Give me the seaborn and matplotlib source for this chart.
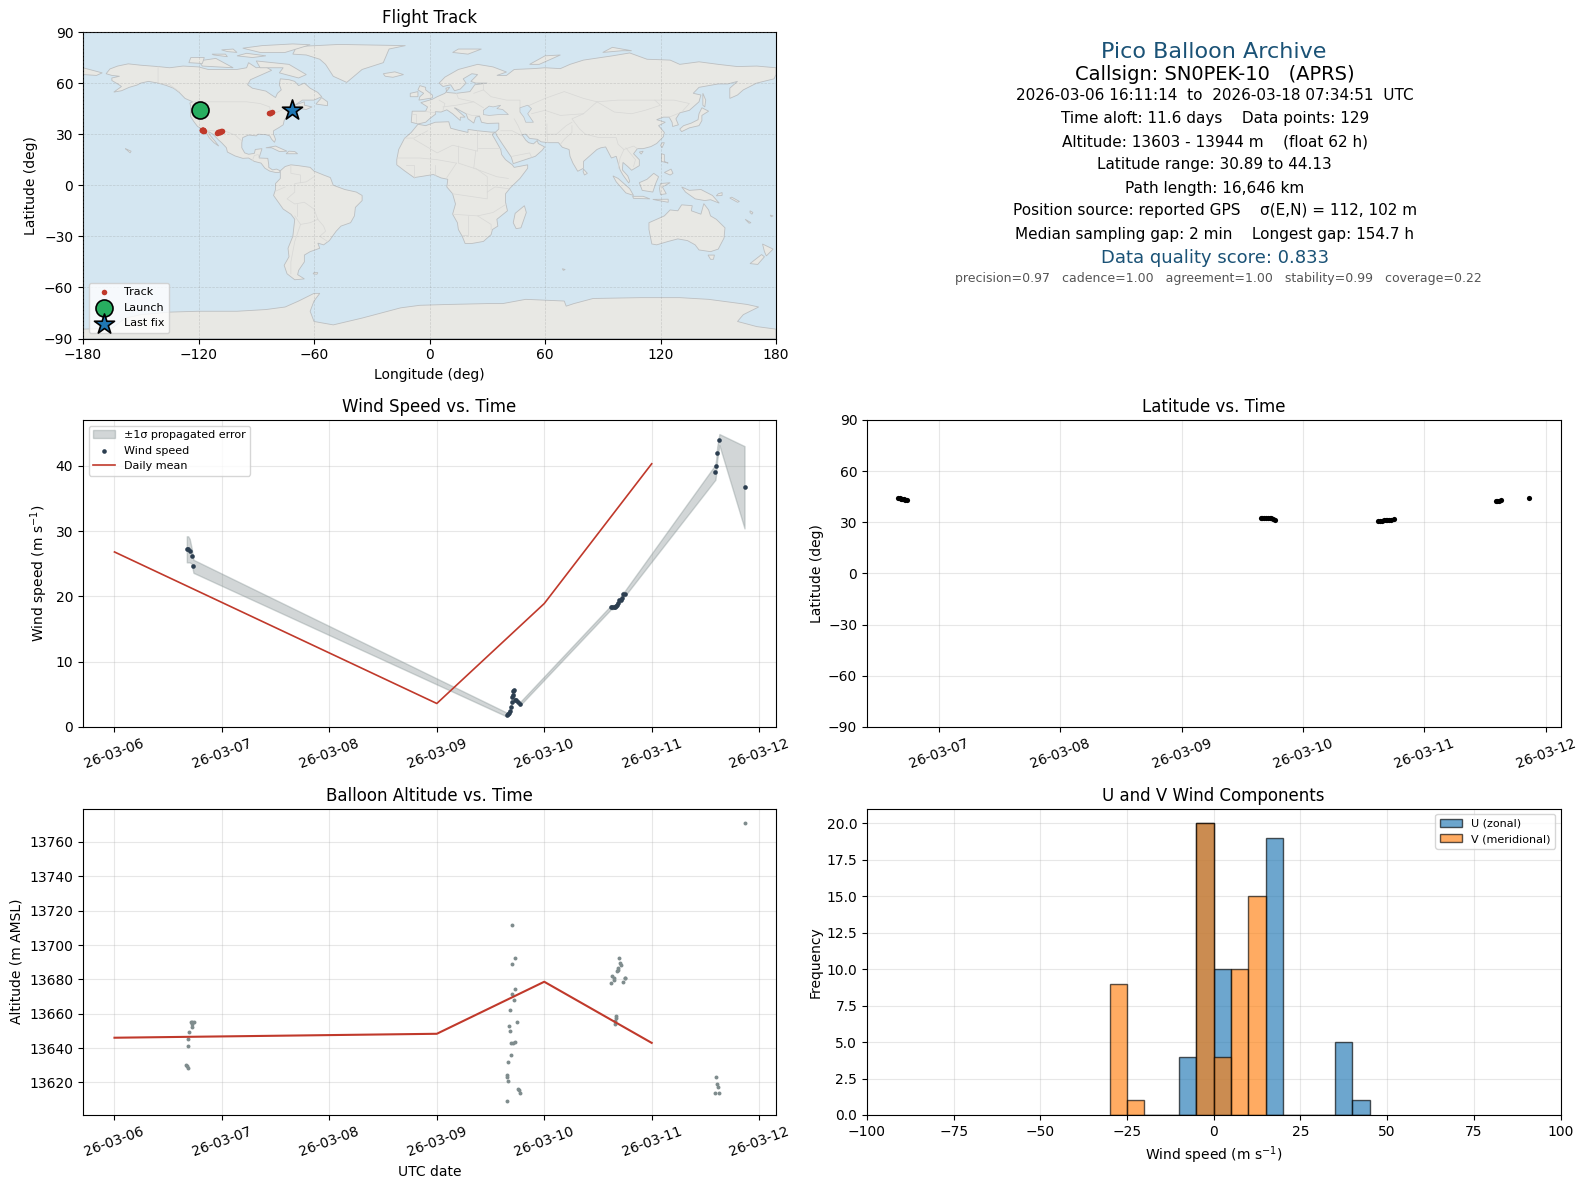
# Pico balloon flight summary page

import matplotlib
matplotlib.use("Agg")
import matplotlib.pyplot as plt
import matplotlib.dates as mdates
import pandas as pd
import seaborn as sns

start = pd.Timestamp("2026-03-06")

# days after 03-06 00:00 for each group of fixes
wind_days = [0.673, 0.685, 0.700, 0.718, 0.735,
             3.652, 3.660, 3.672, 3.681, 3.689, 3.697, 3.701, 3.705, 3.710, 3.720, 3.724, 3.738, 3.755, 3.771,
             4.620, 4.633, 4.645, 4.657, 4.670, 4.678, 4.690, 4.698, 4.710, 4.723, 4.731, 4.748,
             5.593, 5.601, 5.610, 5.630, 5.864]
wind_speed = [27.2, 27.2, 27.0, 26.2, 24.6,
              1.9, 2.0, 2.2, 2.4, 3.1, 3.9, 4.6, 4.9, 5.5, 5.7, 4.2, 4.1, 3.8, 3.5,
              18.3, 18.3, 18.4, 18.4, 18.5, 18.7, 19.0, 19.4, 19.4, 19.7, 20.3, 20.4,
              39.0, 40.0, 41.9, 44.0, 36.7]
wind_err = [2.0, 2.0, 1.8, 1.2, 1.0,
            0.3, 0.25, 0.25, 0.2, 0.2, 0.2, 0.2, 0.2, 0.2, 0.2, 0.25, 0.25, 0.25, 0.25,
            0.3, 0.3, 0.3, 0.3, 0.3, 0.3, 0.3, 0.35, 0.35, 0.35, 0.4, 0.4,
            1.15, 1.1, 1.0, 0.85, 6.3]

mean_days = [0, 3, 4, 5]
mean_speed = [26.8, 3.6, 18.9, 40.3]
mean_alt = [13646, 13648.3, 13678.6, 13643]

alt_days = [0.669, 0.673, 0.681, 0.681, 0.681, 0.689, 0.710, 0.718, 0.726, 0.726, 0.739,
            3.652, 3.652, 3.656, 3.660, 3.660, 3.672, 3.677, 3.681, 3.689, 3.693, 3.697, 3.697,
            3.701, 3.709, 3.718, 3.726, 3.726, 3.726, 3.742, 3.759, 3.763, 3.775,
            4.620, 4.633, 4.645, 4.653, 4.661, 4.661, 4.666, 4.670, 4.678, 4.682, 4.690, 4.698,
            4.702, 4.711, 4.731, 4.748, 4.752,
            5.589, 5.601, 5.605, 5.613, 5.630, 5.864]
altitude = [13629.9, 13629.3, 13628.1, 13645, 13640.9, 13649.1, 13655.1, 13653.9, 13655.1, 13652, 13655.3,
            13624.1, 13609, 13622.9, 13631.6, 13620.6, 13653.1, 13649.7, 13661.9, 13635.7, 13642.7, 13711.9, 13689.2,
            13671.7, 13642.7, 13667.7, 13692.7, 13674.1, 13643.8, 13654.9, 13616.1, 13615.5, 13613.6,
            13678.1, 13682.2, 13679.9, 13681, 13655.9, 13653.9, 13657.6, 13658.8, 13684.7, 13685.7, 13686.7, 13692.7,
            13689.8, 13688.2, 13678.7, 13681, 13681,
            13613.6, 13622.9, 13618.8, 13617.1, 13613.6, 13771.2]

# position fixes, same order in both panels
lat_days = [0.669, 0.680, 0.690, 0.700, 0.712, 0.725, 0.738,
            3.650, 3.665, 3.680, 3.695, 3.710, 3.725, 3.740, 3.755, 3.770,
            4.620, 4.635, 4.650, 4.665, 4.680, 4.695, 4.710, 4.725, 4.745,
            5.590, 5.600, 5.610, 5.630, 5.864]
latitude = [44.1, 44.0, 43.8, 43.6, 43.4, 43.2, 43.0,
            32.4, 32.5, 32.5, 32.5, 32.4, 32.4, 32.3, 32.1, 31.6,
            30.9, 31.0, 31.0, 31.1, 31.1, 31.2, 31.4, 31.6, 31.8,
            42.3, 42.4, 42.6, 42.9, 44.1]
longitude = [-119.8, -119.6, -119.4, -119.2, -119.0, -118.8, -118.6,
             -118.2, -118.1, -118.0, -117.9, -117.8, -117.7, -117.6, -117.5, -117.4,
             -110.2, -110.0, -109.8, -109.5, -109.2, -108.9, -108.6, -108.2, -107.6,
             -83.2, -83.0, -82.6, -82.0, -71.4]

launch_lon, launch_lat = [-119.4], [44.1]
last_lon, last_lat = [-71.4], [44.1]

bin_edges = [-30, -25, -20, -15, -10, -5, 0, 5, 10, 15, 20, 25, 30, 35, 40, 45]
u_counts = [0, 0, 0, 0, 4, 20, 10, 0, 0, 19, 0, 0, 0, 5, 1]
v_counts = [9, 1, 0, 0, 0, 20, 4, 10, 15, 0, 0, 0, 0, 0, 0]

# coarse land outlines, lon/lat
land_shapes = [
    # north america
    [(-168, 65.5), (-166, 68.3), (-162, 70), (-156.5, 71.3), (-150, 70.5), (-141, 69.7), (-135, 69), (-128, 70), (-120, 69.5), (-115, 68), (-108, 68), (-100, 68), (-95, 69), (-94, 72), (-90, 69), (-85, 69.5), (-82, 67.5), (-87, 65), (-93, 62), (-94.5, 59), (-92, 57), (-85, 55.3), (-82, 53), (-80, 51.5), (-79, 54), (-77, 56), (-78, 59), (-77.5, 62.5), (-73, 62), (-70, 61), (-68, 58.5), (-65, 60), (-62, 57), (-58, 54.5), (-56, 52), (-60, 50), (-66, 50), (-70, 47), (-65, 49), (-65, 47), (-61, 46), (-64, 44.5), (-67, 45), (-70, 43.5), (-70.5, 41.7), (-74, 40.5), (-75.5, 38), (-76, 35.5), (-78, 34), (-81, 32), (-81, 30), (-80, 27), (-80.5, 25.2), (-82, 27), (-83, 29), (-85, 29.7), (-89, 30), (-90, 29), (-94, 29.5), (-97, 28), (-97.5, 25), (-97.5, 22), (-96, 19), (-94, 18.2), (-91, 18.7), (-90.5, 21), (-87, 21.5), (-88, 18), (-88.5, 16), (-84, 15.8), (-83.5, 12), (-83.5, 10.5), (-81.5, 9), (-79.5, 9.5), (-77.5, 8.5), (-78, 7.5), (-80, 7.5), (-83, 8.3), (-85.5, 10), (-87.5, 13), (-91, 14), (-94, 16), (-97, 15.8), (-101, 17.2), (-105, 19.5), (-105.5, 22), (-108, 25), (-109.5, 26.5), (-112.5, 30), (-114.7, 31.5), (-114.5, 30), (-111.5, 26), (-109.5, 23), (-112, 25), (-114.5, 28), (-116, 31), (-117.2, 32.5), (-120.5, 34.5), (-122.5, 37.5), (-124.2, 40.5), (-124, 46), (-124.5, 48.3), (-123, 49), (-127, 51), (-130, 54.5), (-133, 57), (-137, 58.7), (-141, 60), (-146, 61), (-150, 60), (-152, 58.8), (-156, 57.5), (-160, 55.5), (-164, 54.7), (-160, 58), (-162, 59.5), (-165, 61.5), (-165, 63), (-161, 64), (-165, 64.5)],
    # greenland and arctic islands
    [(-71, 77), (-69, 81.5), (-59, 82), (-47, 82.7), (-12.5, 82), (-21, 80), (-24, 72), (-35, 68), (-43, 60.4), (-50, 64), (-54, 71), (-57, 74), (-64, 76.5)],
    [(-90, 73), (-73, 71), (-64, 65), (-68, 63), (-78, 66), (-76, 69), (-88, 69)],
    [(-120, 73), (-111, 74.5), (-102, 69), (-118, 70)],
    [(-125, 72), (-118, 71.5), (-117, 75), (-124, 75)],
    [(-97, 80.5), (-87, 82), (-71, 83), (-62, 82.5), (-75, 78), (-88, 78)],
    [(-100, 76), (-92, 75), (-85, 76), (-95, 77.5)],
    [(-112, 76.5), (-105, 75.5), (-106, 77), (-113, 77)],
    [(-105, 78.5), (-100, 78), (-102, 80), (-108, 79.5)],
    [(-59, 47.7), (-53, 46.7), (-53, 49), (-56, 51.5)],
    [(-85, 22), (-80, 23), (-74, 20), (-78, 19.8), (-82, 22)],
    [(-74.5, 18.5), (-68.5, 18.5), (-70, 19.8), (-73, 20)],
    [(-24, 65.5), (-18, 66.6), (-13.5, 65), (-19, 63.4), (-23, 64)],
    [(-158, 21.5), (-155, 20), (-155.5, 19), (-157, 20.5)],
    # south america
    [(-77.5, 8.5), (-75, 11), (-72, 12), (-68, 11.5), (-62, 10.5), (-60, 8.3), (-55, 6), (-51.5, 4.5), (-50, 0), (-44, -2.5), (-38, -4), (-35, -6), (-35, -9), (-38.5, -13), (-39, -18), (-41, -22), (-46, -24), (-48.5, -27), (-52, -32.5), (-55, -35), (-58, -34), (-57, -37), (-62, -39), (-65, -41), (-65, -45), (-68, -50), (-68.5, -52.5), (-65, -55), (-70, -55.5), (-74, -52), (-75.5, -47), (-73, -42), (-73.5, -37), (-71, -30), (-70, -20), (-72, -17), (-76, -14), (-81, -6), (-80, -2.5), (-80, 1), (-77.5, 4)],
    # africa
    [(-6, 35.8), (-2, 35), (3, 37), (10, 37.3), (11, 33.5), (15, 32.3), (20, 31), (20, 32.8), (25, 32), (32, 31.2), (34.3, 31.2), (32.5, 29.9), (34, 27), (37, 21), (37.5, 18), (39.5, 15), (43, 12), (44, 10.5), (51, 12), (51, 10), (47, 4), (42, -1.5), (39.5, -5), (39.5, -10), (40.5, -15), (35, -20), (35.5, -24), (32.7, -26), (32, -29), (28, -33), (22, -34.2), (18.5, -34.2), (17, -30), (15, -26), (14.5, -22), (12, -17), (13.5, -11), (12, -5), (9, -1), (9.5, 3.5), (6, 4.3), (2, 6.3), (-4, 5.2), (-8, 4.5), (-13, 8.5), (-17, 12), (-17, 15), (-16, 21), (-13, 27.5), (-9.5, 31)],
    [(49.3, -12), (50.3, -16), (47.5, -25), (45, -25.5), (43.5, -22), (44.5, -16.5)],
    # eurasia
    [(-9.5, 37), (-6, 36), (-2, 37), (0, 39), (3.2, 41.8), (3, 43.2), (6, 43), (9, 44.3), (12, 42), (16, 38), (16, 40), (18.5, 40), (13, 45.5), (14, 45), (19, 42), (20, 39), (23, 36.5), (24, 40), (26, 40.5), (27, 37), (30, 36.3), (36, 36.5), (36, 33), (34.3, 31.2), (34.8, 29.5), (38, 24), (42.5, 16.5), (43.5, 12.7), (51, 15.5), (55, 17), (58.5, 20.5), (59.8, 22.5), (56.5, 24.5), (56, 26.3), (54, 24.3), (51.5, 25), (50, 26.5), (48, 29.8), (50, 30), (52, 27.5), (56, 27), (58, 25.5), (62, 25), (67, 25), (69, 22.3), (72.5, 21), (73, 17), (74.5, 13), (77, 8.2), (80, 10), (80, 14), (83, 17), (87, 21), (89, 22), (91.5, 22.5), (94.5, 16), (97, 17), (98, 13), (99, 9), (100.5, 6), (103.5, 1.3), (104, 2.5), (103, 5.5), (100.2, 9), (100.5, 13.4), (103, 11), (105, 8.8), (109, 11.5), (109, 15), (106, 18.5), (108, 21.5), (111, 21.5), (115, 22.7), (118, 24.5), (121.5, 28.5), (122, 31), (119, 35), (122.5, 37), (118, 38.5), (121.5, 40), (124.5, 40), (126, 37), (126.3, 34.5), (129.3, 35.5), (128, 39), (130, 42.5), (135, 44), (140, 49), (141, 53), (137, 54), (140, 57.5), (150, 59.5), (155, 59.5), (160, 61), (156, 57), (156, 51), (160, 53), (163, 56), (170, 60), (179, 62.5), (180, 65), (180, 69), (170, 70), (160, 69.7), (150, 71), (140, 72.5), (130, 71), (125, 73.5), (113, 74), (104, 77.7), (95, 76), (80, 73.5), (73, 71), (68, 68.5), (60, 69), (54, 68.5), (44, 68), (40, 64.5), (35, 64.5), (40, 66.5), (33, 69.5), (25, 71), (15, 68), (8, 63.5), (5, 60), (7, 58), (11, 59), (13, 55.5), (16, 56.5), (19, 60), (17.5, 62.5), (22, 65.5), (25, 65), (21.5, 61), (24, 60), (30, 60), (23.5, 59), (21, 55), (14, 54), (9, 54.5), (8.5, 57), (10.5, 57.5), (8, 54), (4, 52), (1.5, 50.5), (-1.5, 49.5), (-4.5, 48.5), (-1, 46), (-2, 43.5), (-9, 43.5)],
    [(-180, 69), (-175, 67.5), (-170, 66), (-173, 64.5), (-180, 65)],
    [(142, 54), (143.5, 50), (143, 46), (142, 47)],
    [(130, 33), (131, 31.5), (135, 33.7), (140, 35), (141.5, 38), (141.5, 41), (145, 43.5), (141.5, 45.5), (140, 42), (139.5, 38.5), (136, 36.5), (132, 35)],
    [(-5.5, 50), (1.5, 51.3), (1.5, 53), (-2, 56), (-2, 57.5), (-5, 58.5), (-6, 56), (-3, 54), (-5, 52)],
    [(-10, 52), (-6, 52), (-6, 55), (-10, 54)],
    [(12, 78), (20, 77), (27, 80), (15, 80)],
    [(52, 71), (57, 71), (68, 76.5), (60, 76)],
    [(90, 78), (100, 79), (105, 79), (95, 81)],
    [(80, 9.5), (82, 7), (80.5, 6), (79.8, 8)],
    [(121, 25), (122, 25), (120.8, 22), (120, 23.5)],
    [(109, 19.5), (111, 20), (110, 18.3)],
    [(120.5, 18.5), (122, 18), (122, 14), (124, 13), (120.5, 14)],
    [(122, 7.5), (125.5, 9.5), (126.5, 7), (125, 6)],
    [(109, 1.5), (113, 3.5), (116.5, 7), (119, 5), (117.5, 1), (116, -4), (110.5, -3)],
    [(95.3, 5.5), (98, 4), (104, -2), (106, -6), (102, -4.5), (97, 2)],
    [(105.5, -6.5), (111, -6.5), (114.5, -8), (106, -7.7)],
    [(120, 1), (125, 1.5), (121, -1), (123, -5), (120, -5.5), (119.5, -2)],
    [(116, -8.3), (124, -8.2), (124, -10), (119, -9)],
    [(131, -1), (135, -3), (141, -2.5), (147, -6), (150.5, -10.5), (146, -8.5), (143, -9), (138, -8), (133, -4)],
    [(150, -5), (152, -4.3), (152, -6), (149, -6.2)],
    [(157, -7), (161, -9.5), (160, -10), (156, -7.5)],
    [(166.5, -15), (168, -16), (167.5, -17), (166.5, -16)],
    [(164, -20), (167, -22), (166, -22.3)],
    [(177, -17.5), (178.5, -18), (177.5, -18.5)],
    # australia and around
    [(114, -22), (114, -26), (115.5, -34.5), (118, -35), (124, -33), (129, -31.5), (134, -32.5), (138, -35), (140, -38), (146, -39), (150, -37.5), (153, -31), (153.5, -25), (149, -20), (146, -18), (145, -14.5), (142.5, -10.8), (141, -17), (136, -15), (136.5, -12), (131, -11.5), (129, -15), (125, -14.5), (122, -18), (116, -21)],
    [(144.7, -41), (148, -41), (147.5, -43.5), (146, -43.5)],
    [(173, -34.5), (178.5, -37.5), (175, -41.5), (174, -39)],
    [(172.5, -40.7), (174, -42), (170.5, -46.5), (166.5, -46)],
    [(69, -49), (70.5, -49.5), (69.5, -50)],
    [(-60, -51.3), (-58, -51.3), (-58.5, -52.3), (-60.5, -52)],
    # antarctica
    [(-180, -84.5), (-165, -84), (-158, -78), (-150, -76), (-135, -74.5), (-120, -74), (-100, -74), (-85, -73), (-75, -71.5), (-68, -68), (-60, -63.5), (-57, -63.5), (-60, -68), (-62, -74), (-60, -80), (-50, -82), (-35, -78), (-25, -75), (-15, -72), (-5, -70.5), (10, -70), (30, -69.5), (38, -69.5), (50, -67), (70, -68), (71, -71), (75, -69.5), (85, -66.5), (110, -66), (130, -66), (145, -67), (165, -70), (171, -71.5), (163, -76), (160, -80), (170, -83), (180, -84.5), (180, -90), (-180, -90)],
]

inland_water = [
    [(28, 41.5), (31, 41), (36, 41.5), (41, 41.5), (38, 44.5), (35, 45), (37, 47), (33, 46), (31, 46.5), (28, 44)],
    [(47, 45.5), (51, 47), (53, 45), (51, 42), (54, 37), (50, 37), (49, 40), (47, 43)],
]

border_lines = [
    [(-123, 49), (-95, 49), (-88, 48), (-83, 46), (-82.5, 42), (-79, 43), (-75, 45), (-70, 46), (-67.5, 47), (-67, 45)],
    [(-141, 69.7), (-141, 60), (-135, 59), (-130, 55)],
    [(-117, 32.5), (-108, 31.5), (-106, 31.7), (-101, 29.5), (-97.5, 26)],
    [(-92, 14.5), (-91, 17.5), (-89, 18), (-88.5, 16)],
    [(-60, 5), (-64, 2), (-70, 1), (-70, -4), (-74, -8), (-70, -11), (-65, -10), (-60, -14), (-58, -20), (-55, -24), (-54, -27), (-57, -30), (-53, -33)],
    [(-70, -18), (-67, -23), (-70, -33), (-72, -45), (-72, -52)],
    [(-72, 12), (-72, 7), (-67, 6), (-67, 1.5)],
    [(-80, -3.5), (-75, -1)],
    [(-69, -11), (-69, -18)],
    [(-67, -23), (-62, -22), (-58, -20)],
    [(-13, 27.7), (-8, 27.7), (-1, 32)],
    [(-8, 27), (4, 19), (12, 23.5), (25, 20), (25, 32)],
    [(25, 22), (37, 22)],
    [(15, 23), (15, 13), (23, 10), (24, 20)],
    [(-17, 16), (-5, 16), (4, 15), (14, 13)],
    [(23, 10), (35, 5), (41, 4)],
    [(14, 13), (9, 4.5)],
    [(12, -5), (30, -8), (30, -4), (34, -1), (41, -2)],
    [(12, -17), (25, -18), (33, -16), (40, -11)],
    [(20, -18), (20, -29), (17, -29)],
    [(25, -18), (32, -23), (32, -26)],
    [(-8, 4.5), (-8, 12), (-12, 12)],
    [(3, 6), (3, 12)],
    [(30, -4), (30, 5), (24, 10)],
    [(28, 56), (32, 52), (40, 50), (47, 50), (47, 45)],
    [(50, 46), (60, 51), (70, 55), (80, 51), (87, 49), (98, 50), (107, 50), (117, 50), (127, 50), (135, 48), (131, 43)],
    [(87, 49), (96, 43), (105, 42), (112, 44), (120, 47), (117, 50)],
    [(87, 49), (80, 42), (74, 39), (78, 33), (81, 30), (88, 28), (97, 28), (98, 24), (101, 21), (106, 23), (108, 21.5)],
    [(74, 35), (74, 31), (70, 27), (68, 24)],
    [(44, 39), (46, 35), (48, 30)],
    [(61, 36), (61, 30), (61.5, 25)],
    [(61, 30), (66, 30), (71, 35), (74, 37)],
    [(53, 42), (60, 44), (68, 41), (80, 42)],
    [(37, 32), (43, 32), (48, 29)],
    [(43, 17), (52, 19), (53, 16.5)],
    [(98, 10), (99, 16), (101, 21)],
    [(102, 22), (107, 15), (106, 11)],
    [(124.5, 40), (130, 42.5)],
    [(5, 50), (8, 48), (7, 44)],
    [(-2, 43.3), (3, 42.5)],
    [(14, 54), (15, 51), (23, 49), (28, 45.5)],
    [(23, 54), (28, 56), (28, 60)],
    [(26, 41), (22, 41), (19.5, 42)],
    [(23, 49), (14, 47), (7, 46)],
    [(-7, 37), (-7, 42), (-9, 42)],
]

info_lines = [
    ("Pico Balloon Archive", 16, "#1a5276", 51.7, 0),
    ("Callsign: SN0PEK-10   (APRS)", 14, "black", 75, 1),
    ("2026-03-06 16:11:14  to  2026-03-18 07:34:51  UTC", 11, "black", 96, 1),
    ("Time aloft: 11.6 days    Data points: 129", 11, "black", 119, 1),
    ("Altitude: 13603 - 13944 m    (float 62 h)", 11, "black", 142, 1),
    ("Latitude range: 30.89 to 44.13", 11, "black", 165, 1),
    ("Path length: 16,646 km", 11, "black", 188, 1),
    ("Position source: reported GPS    σ(E,N) = 112, 102 m", 11, "black", 210, 1),
    ("Median sampling gap: 2 min    Longest gap: 154.7 h", 11, "black", 234, 1),
    ("Data quality score: 0.833", 13, "#1a5276", 258, 1),
    ("precision=0.97   cadence=1.00   agreement=1.00   stability=0.99   coverage=0.22", 9, "#555555", 279, 5),
]


def to_dates(days):
    return start + pd.to_timedelta(days, unit="D")


def box(left, top, right, bottom):
    # pixel box to figure fractions
    return [left / 1587, 1 - bottom / 1189, (right - left) / 1587, (bottom - top) / 1189]


def date_axis(ax):
    ax.xaxis.set_major_locator(mdates.DayLocator())
    ax.xaxis.set_major_formatter(mdates.DateFormatter("%y-%m-%d"))
    ax.tick_params(axis="x", rotation=20)
    ax.grid(True, color="#b0b0b0", alpha=0.3, linewidth=0.8)
    ax.set_axisbelow(True)


fig = plt.figure(figsize=(15.87, 11.89), dpi=100)
ax_map = fig.add_axes(box(83, 32, 776, 338.5))
ax_info = fig.add_axes(box(867, 32, 1560.5, 338.5))
ax_wind = fig.add_axes(box(83, 420, 776, 727))
ax_lat = fig.add_axes(box(867, 420, 1560.5, 727))
ax_alt = fig.add_axes(box(83, 808.5, 776, 1115))
ax_hist = fig.add_axes(box(867, 808.5, 1560.5, 1115))

# track map
ax_map.set_facecolor("#d4e6f1")
for shape in land_shapes:
    ax_map.fill([p[0] for p in shape], [p[1] for p in shape], facecolor="#e8e8e4",
                edgecolor="#bcbfc1", linewidth=0.6, zorder=1)
for shape in inland_water:
    ax_map.fill([p[0] for p in shape], [p[1] for p in shape], facecolor="#d4e6f1",
                edgecolor="#bcbfc1", linewidth=0.5, zorder=1.2)
for line in border_lines:
    ax_map.plot([p[0] for p in line], [p[1] for p in line], color="#d8d8d6", linewidth=0.5, zorder=1.1)
sns.scatterplot(x=longitude, y=latitude, ax=ax_map, color="#c0392b", s=16, linewidth=0, label="Track", zorder=3)
sns.scatterplot(x=launch_lon, y=launch_lat, ax=ax_map, color="#27ae60", s=150, marker="o",
                edgecolor="black", linewidth=1.2, label="Launch", zorder=4)
sns.scatterplot(x=last_lon, y=last_lat, ax=ax_map, color="#1f77b4", s=230, marker="*",
                edgecolor="black", linewidth=1.2, label="Last fix", zorder=4)
ax_map.set_xlim(-180, 180)
ax_map.set_ylim(-90, 90)
ax_map.set_xticks(range(-180, 181, 60))
ax_map.set_yticks(range(-90, 91, 30))
ax_map.grid(True, color="#888888", alpha=0.3, linewidth=0.5, linestyle="--", zorder=2)
ax_map.set_axisbelow(False)
ax_map.set_xlabel("Longitude (deg)")
ax_map.set_ylabel("Latitude (deg)")
ax_map.set_title("Flight Track", pad=6.5)
ax_map.legend(loc="lower left", fontsize=8)

# summary text
ax_info.axis("off")
for text, size, color, y_px, x_off in info_lines:
    fig.text(((867 + 1560.5) / 2 + x_off) / 1587, 1 - y_px / 1189, text, fontsize=size, color=color,
             ha="center", va="center")

# wind speed
wind_dates = to_dates(wind_days)
low = [s - e for s, e in zip(wind_speed, wind_err)]
high = [s + e for s, e in zip(wind_speed, wind_err)]
ax_wind.fill_between(wind_dates, low, high, color="#7f8c8d", alpha=0.35, label="±1σ propagated error")
sns.scatterplot(x=wind_dates, y=wind_speed, ax=ax_wind, color="#2c3e50", s=11, linewidth=0, label="Wind speed", zorder=3)
sns.lineplot(x=to_dates(mean_days), y=mean_speed, ax=ax_wind, color="#c0392b", linewidth=1.2, label="Daily mean")
date_axis(ax_wind)
ax_wind.set_xlim(to_dates(-0.293), to_dates(6.157))
ax_wind.set_ylim(0, 47)
ax_wind.set_xlabel("")
ax_wind.set_ylabel("Wind speed (m s$^{-1}$)")
ax_wind.set_title("Wind Speed vs. Time")
ax_wind.legend(loc="upper left", fontsize=8)

# latitude
sns.scatterplot(x=to_dates(lat_days), y=latitude, ax=ax_lat, color="black", s=14, linewidth=0)
date_axis(ax_lat)
ax_lat.set_xlim(to_dates(0.41), to_dates(6.12))
ax_lat.set_ylim(-90, 90)
ax_lat.set_yticks(range(-90, 91, 30))
ax_lat.set_xlabel("")
ax_lat.set_ylabel("Latitude (deg)", labelpad=3)
ax_lat.set_title("Latitude vs. Time")

# altitude
sns.scatterplot(x=to_dates(alt_days), y=altitude, ax=ax_alt, color="#7f8c8d", s=8, linewidth=0)
sns.lineplot(x=to_dates(mean_days), y=mean_alt, ax=ax_alt, color="#c0392b", linewidth=1.5)
date_axis(ax_alt)
ax_alt.set_xlim(to_dates(-0.293), to_dates(6.157))
ax_alt.set_ylim(13601, 13779.5)
ax_alt.set_yticks(range(13620, 13761, 20))
ax_alt.set_xlabel("UTC date")
ax_alt.set_ylabel("Altitude (m AMSL)")
ax_alt.set_title("Balloon Altitude vs. Time", pad=5.3)

# wind components
centers = [(a + b) / 2 for a, b in zip(bin_edges[:-1], bin_edges[1:])]
sns.histplot(x=centers, weights=u_counts, bins=bin_edges, ax=ax_hist, color="#1f77b4", alpha=0.65,
             edgecolor=(0, 0, 0, 0.65), linewidth=1, label="U (zonal)")
sns.histplot(x=centers, weights=v_counts, bins=bin_edges, ax=ax_hist, color="#ff7f0e", alpha=0.65,
             edgecolor=(0, 0, 0, 0.65), linewidth=1, label="V (meridional)")
ax_hist.grid(True, color="#b0b0b0", alpha=0.3, linewidth=0.8)
ax_hist.set_axisbelow(True)
ax_hist.set_xlim(-100, 100)
ax_hist.set_ylim(0, 21)
ax_hist.set_xlabel("Wind speed (m s$^{-1}$)")
ax_hist.set_ylabel("Frequency", labelpad=3)
ax_hist.set_title("U and V Wind Components", pad=5.3)
ax_hist.legend(loc="upper right", fontsize=8)

fig.savefig("out.png", dpi=100)
